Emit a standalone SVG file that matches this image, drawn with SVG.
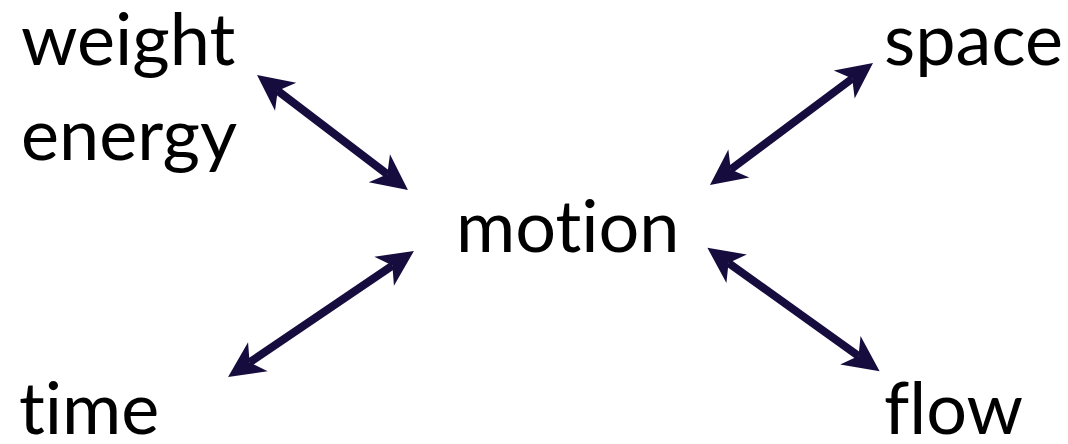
<svg xmlns="http://www.w3.org/2000/svg" width="1068" height="444" viewBox="0 0 1068 444">
<style>
text{font-family:Lato,"Open Sans",sans-serif;font-size:72px;fill:#000;font-variant-ligatures:none;font-feature-settings:"liga" 0,"clig" 0}
.c line{stroke:#160c3d;stroke-width:8;fill:none;marker-start:url(#ah);marker-end:url(#ah)}
</style>
<defs>
<marker id="ah" markerUnits="userSpaceOnUse" markerWidth="38" markerHeight="38" viewBox="0 -19 38 38" refX="10" refY="0" orient="auto-start-reverse" overflow="visible">
<path d="M36,0 L0,-17.5 L10,0 L0,17.5 Z" fill="#160c3d"/>
</marker>
</defs>
<rect width="1068" height="444" fill="#fff"/>
<g class="c" id="connectors">
<line x1="277.7" y1="90.7" x2="387.3" y2="174.3"/>
<line x1="852.2" y1="78.6" x2="730.8" y2="169.4"/>
<line x1="392.4" y1="265.6" x2="249.6" y2="362.4"/>
<line x1="728.5" y1="262.9" x2="858.5" y2="356.1"/>
</g>
<g id="weight-energy"><text x="21" y="65">weight</text><text x="21" y="160">energy</text></g>
<g id="motion"><text x="456" y="252">motion</text></g>
<g id="space"><text x="884" y="65">space</text></g>
<g id="time"><text x="19" y="434">time</text></g>
<g id="flow"><text x="884" y="434">flow</text></g>
</svg>
